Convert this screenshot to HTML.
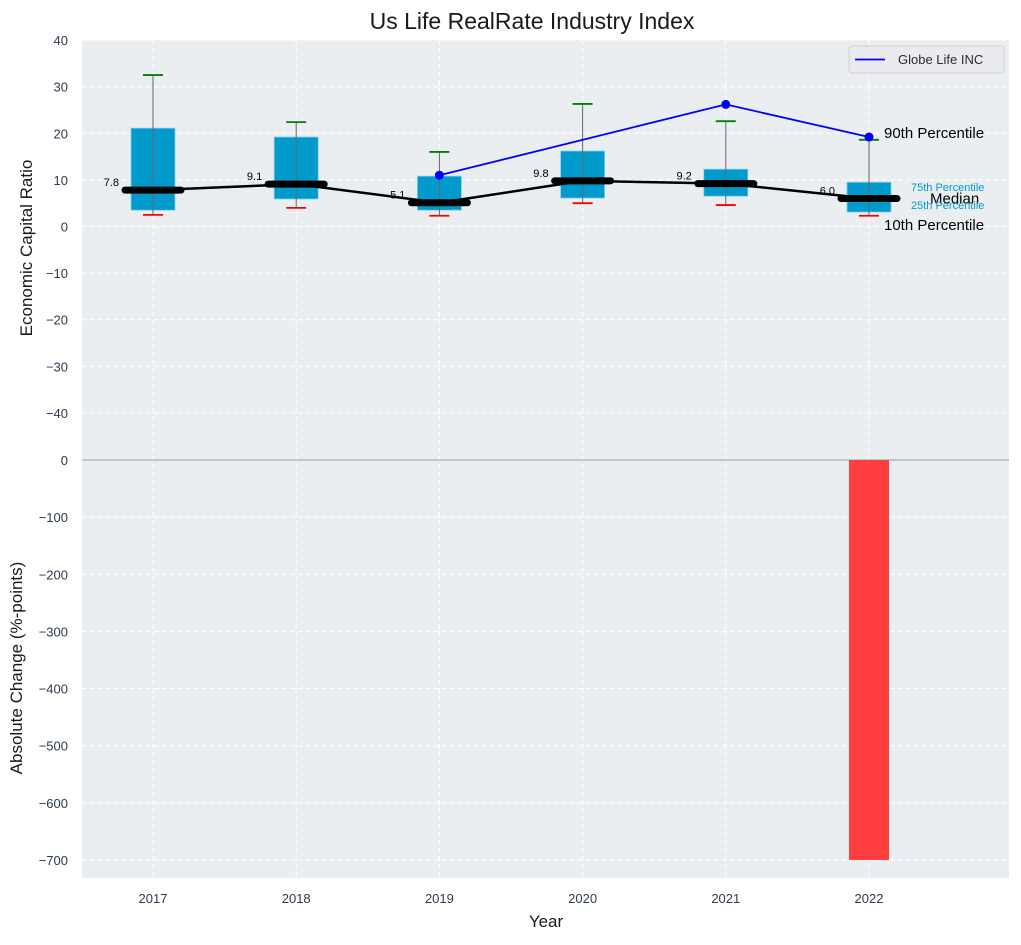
<!DOCTYPE html>
<html><head><meta charset="utf-8"><style>
body{margin:0;background:#fff;font-family:"Liberation Sans",sans-serif}
svg text{font-family:"Liberation Sans",sans-serif}
</style></head><body>
<svg id="c" width="1021" height="940"></svg>
<script>
const years=["2017","2018","2019","2020","2021","2022"];
const p90=[32.5,22.4,16.0,26.3,22.6,18.6];
const p75=[21.1,19.2,10.8,16.2,12.3,9.5];
const p25=[3.5,5.9,3.5,6.1,6.5,3.1];
const p10=[2.5,4.0,2.3,5.0,4.6,2.3];
const median=[7.8,9.1,5.1,9.8,9.2,6.0];
const globeYears=[2,4,5];
const globeVals=[11.0,26.2,19.2];
const changeVals=[null,null,null,null,null,-700];
const topTicks=[40,30,20,10,0,-10,-20,-30,-40];
const botTicks=[0,-100,-200,-300,-400,-500,-600,-700];

const svg=document.getElementById('c');
const NS='http://www.w3.org/2000/svg';
function el(t,a,p){const e=document.createElementNS(NS,t);for(const k in a)e.setAttribute(k,a[k]);(p||svg).appendChild(e);return e;}
const L=82,R=1009;
const x=i=>153+i*143.2;
const yT=v=>226.5-4.66*v;
const yB=v=>460-0.5714*v;

let bg=el('rect',{x:L,y:40,width:R-L,height:420,fill:'#eaeef0'});

let bg2=el('rect',{x:L,y:460,width:R-L,height:418,fill:'#eaeef0'});


topTicks.forEach(t=>{const y=yT(t);
 el('line',{x1:L,x2:R,y1:y,y2:y,stroke:'#fff','stroke-dasharray':'5,3','stroke-width':1});
 const tx=el('text',{x:68,y:y+5,'text-anchor':'end','font-size':13,fill:'#2d3b4c'});tx.textContent=t<0?'\u2212'+(-t):t;
 
});
botTicks.forEach(t=>{const y=yB(t);
 if(t!==0)el('line',{x1:L,x2:R,y1:y,y2:y,stroke:'#fff','stroke-dasharray':'5,3','stroke-width':1});
 const tx=el('text',{x:68,y:y+5,'text-anchor':'end','font-size':13,fill:'#2d3b4c'});tx.textContent=t<0?'\u2212'+(-t):t;
 
});
years.forEach((yr,i)=>{
 el('line',{x1:x(i),x2:x(i),y1:40,y2:878,stroke:'#fff','stroke-dasharray':'5,3','stroke-width':1});
 const tx=el('text',{x:x(i),y:903,'text-anchor':'middle','font-size':13,fill:'#2d3b4c'});tx.textContent=yr;
 
});
el('line',{x1:L,x2:R,y1:460,y2:460,stroke:'#b8b8b8','stroke-width':1.5});

years.forEach((yr,i)=>{
 const cx=x(i);
 const b=el('rect',{x:cx-22,y:yT(p75[i]),width:44,height:yT(p25[i])-yT(p75[i]),fill:'#009ACD',stroke:'#7fd0ec','stroke-width':0.8});
 
 el('line',{x1:cx,x2:cx,y1:yT(p90[i]),y2:yT(p10[i]),stroke:'#666','stroke-width':1});
 const w1=el('line',{x1:cx-10,x2:cx+10,y1:yT(p90[i]),y2:yT(p90[i]),stroke:'green','stroke-width':1.8});
 
 const w2=el('line',{x1:cx-10,x2:cx+10,y1:yT(p10[i]),y2:yT(p10[i]),stroke:'red','stroke-width':1.8});
 
});
const mp=el('polyline',{points:median.map((m,i)=>x(i)+','+yT(m)).join(' '),fill:'none',stroke:'#000','stroke-width':2.5});

years.forEach((yr,i)=>{
 const m=el('line',{x1:x(i)-28,x2:x(i)+28,y1:yT(median[i]),y2:yT(median[i]),stroke:'#000','stroke-width':7,'stroke-linecap':'round'});
 
 const t=el('text',{x:x(i)-34,y:yT(median[i])-4,'text-anchor':'end','font-size':11,fill:'#000'});t.textContent=median[i].toFixed(1);
 
});
const gl=el('polyline',{points:globeYears.map((gi,k)=>x(gi)+','+yT(globeVals[k])).join(' '),fill:'none',stroke:'blue','stroke-width':1.8});

globeYears.forEach((gi,k)=>{const c=el('circle',{cx:x(gi),cy:yT(globeVals[k]),r:4.5,fill:'blue'});
 });

changeVals.forEach((v,i)=>{if(v==null)return;
 const b=el('rect',{x:x(i)-20,y:yB(0),width:40,height:yB(v)-yB(0),fill:'#ff3f3f'});
 });

function txt(s,a,name){const t=el('text',a);t.textContent=s;return t;}
const li=years.length-1;
txt('90th Percentile',{x:884,y:yT(p90[li])-2,'font-size':15,fill:'#000'},'p90-annotation');
txt('Median',{x:930,y:yT(median[li])+5,'font-size':15,fill:'#000'},'median-annotation');
txt('75th Percentile',{x:911,y:191,'font-size':11,fill:'#009ACD'},'p75-annotation');
txt('25th Percentile',{x:911,y:209,'font-size':11,fill:'#009ACD'},'p25-annotation');
txt('10th Percentile',{x:884,y:yT(p10[li])+14,'font-size':15,fill:'#000'},'p10-annotation');

const lg=el('g',{});
el('rect',{x:849,y:46,width:155,height:27,rx:3,fill:'#eaeaf0',stroke:'#d0d0d0'},lg);
el('line',{x1:855,x2:885,y1:59.5,y2:59.5,stroke:'blue','stroke-width':1.8},lg);
txt('Globe Life INC',{x:898,y:64,'font-size':13,fill:'#2d2d2d'},'legend-entry');

txt('Us Life RealRate Industry Index',{x:532,y:29,'text-anchor':'middle','font-size':23,fill:'#1a1a1a'},'chart-title');
txt('Year',{x:546,y:927,'text-anchor':'middle','font-size':17,fill:'#1a1a1a'},'x-axis-title');
txt('Economic Capital Ratio',{x:32,y:248,'text-anchor':'middle','font-size':17,fill:'#1a1a1a',transform:'rotate(-90 32 248)'},'y-axis-title-top');
txt('Absolute Change (%-points)',{x:22,y:668,'text-anchor':'middle','font-size':17,fill:'#1a1a1a',transform:'rotate(-90 22 668)'},'y-axis-title-bottom');
</script>
</body></html>
